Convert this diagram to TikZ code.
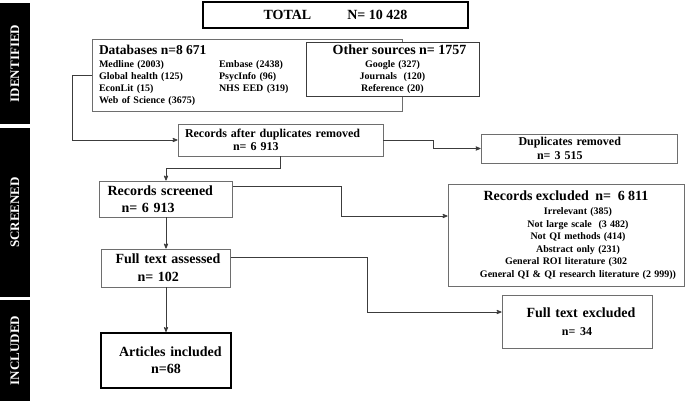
\documentclass[tikz,border=0pt]{standalone}
\usepackage{fontspec}
\setmainfont{Liberation Serif}
\usetikzlibrary{arrows,positioning}

\definecolor{boxgray}{HTML}{6E6E6E}
\definecolor{linegray}{HTML}{3C3C3C}

\begin{document}
\begin{tikzpicture}[x=1pt,y=-1pt,
	box/.style={draw=boxgray,fill=white,line width=0.9pt,align=left,inner ysep=0pt,font=\bfseries\fontsize{14}{17}\selectfont},
	bar/.style={fill=black,text=white,rotate=90,minimum height=30pt,inner sep=0pt,font=\bfseries\fontsize{13}{14}\selectfont},
	conn/.style={->,>=stealth',draw=linegray,line width=0.8pt}]
	\useasboundingbox (0,0) rectangle (685,402);

	% stage bars
	\node[bar,minimum width=121pt] (Bident) at (15,63.5) {IDENTIFIED};
	\node[bar,minimum width=169pt] (Bscreen) at (15,212.5) {SCREENED};
	\node[bar,minimum width=101pt] (Bincl) at (15,350.5) {INCLUDED};

	\node[draw,line width=2pt,minimum width=265pt,minimum height=26pt,inner sep=0pt,font=\bfseries\fontsize{14}{16}\selectfont] (Total) at (335.5,15) {TOTAL\hspace{36pt}N= 10 428};

	\node[box,minimum height=72pt,text width=296pt,inner xsep=7pt,font=\bfseries\fontsize{10}{12}\selectfont] (DB) at (247,75)
		{{\fontsize{13.5}{14}\selectfont Databases n=8 671}\\[1pt]
		\makebox[120pt][l]{Medline (2003)}Embase (2438)\\
		\makebox[120pt][l]{Global health (125)}PsycInfo (96)\\
		\makebox[120pt][l]{EconLit (15)}NHS EED (319)\\
		Web of Science (3675)};
	\node[box,draw=linegray,minimum height=54pt,text width=173pt,inner xsep=0pt,align=center,font=\bfseries\fontsize{10}{12}\selectfont] (Other) at (392.5,69)
		{\hspace*{14pt}{\fontsize{14}{14}\selectfont Other sources n= 1757}\\[1pt]
		Google (327)\\ Journals\ \ (120)\\ Reference (20)};

	\node[box,minimum height=32pt,text width=191pt,inner xsep=7pt,font=\bfseries\fontsize{12}{13}\selectfont] (Dedup) at (280.5,140)
		{Records after duplicates removed\\ \hspace*{48pt}n= 6 913};
	\node[box,minimum height=29pt,text width=121pt,inner xsep=37.5pt,font=\bfseries\fontsize{12}{14}\selectfont] (Dup) at (579,148.5)
		{Duplicates removed\\ \hspace*{18.5pt}n= 3 515};

	\node[box,minimum height=36pt,text width=117pt,inner xsep=8pt] (Screened) at (166,199)
		{Records screened\\ \hspace*{14pt}n= 6 913};
	\node[box,minimum height=102pt,text width=236pt,inner xsep=0pt,align=center,font=\bfseries\fontsize{10}{12.5}\selectfont] (Excl) at (566,235)
		{{\fontsize{14}{14}\selectfont Records excluded\ \ n=\ \ 6 811}\\[2pt]
		\hspace*{24pt}Irrelevant (385)\\
		\hspace*{24pt}Not large scale\ \ (3 482)\\
		\hspace*{24pt}Not QI methods (414)\\
		\hspace*{24pt}Abstract only (231)\\
		General ROI literature (302\\
		\hspace*{24pt}General QI \& QI research literature (2 999))};

	\node[box,minimum height=38pt,text width=113pt,inner xsep=8pt,font=\bfseries\fontsize{14}{18}\selectfont] (Full) at (166,268)
		{\hspace*{6pt}Full text assessed\\ \hspace*{28pt}n= 102};
	\node[box,minimum height=53pt,text width=150pt,inner xsep=0pt,align=center] (FullExcl) at (577,321.5)
		{\hspace*{8pt}Full text excluded\\[1pt] {\fontsize{12}{12}\selectfont n= 34}};

	\node[box,draw=black,line width=2pt,minimum height=55pt,text width=118pt,inner xsep=6pt] (Incl) at (166,360.5)
		{\hspace*{12pt}Articles included\\ \hspace*{44pt}n=68};

	% connectors
	\draw[conn] (DB.west) -- ++(-19,0) |- (Dedup.west);
	\draw[conn] (Dedup.east) -- ++(50,0) |- (Dup.west);
	\draw[conn] (Dedup.south) -- ++(0,12) -| (Screened.north);
	\draw[conn] ([yshift=13pt]Screened.east) -- ++(108,0) |- ([yshift=19pt]Excl.west);
	\draw[conn] (Screened) -- (Full);
	\draw[conn] ([yshift=11pt]Full.east) -- ++(136,0) |- ([yshift=9.5pt]FullExcl.west);
	\draw[conn] (Full) -- (Incl);
\end{tikzpicture}
\end{document}
